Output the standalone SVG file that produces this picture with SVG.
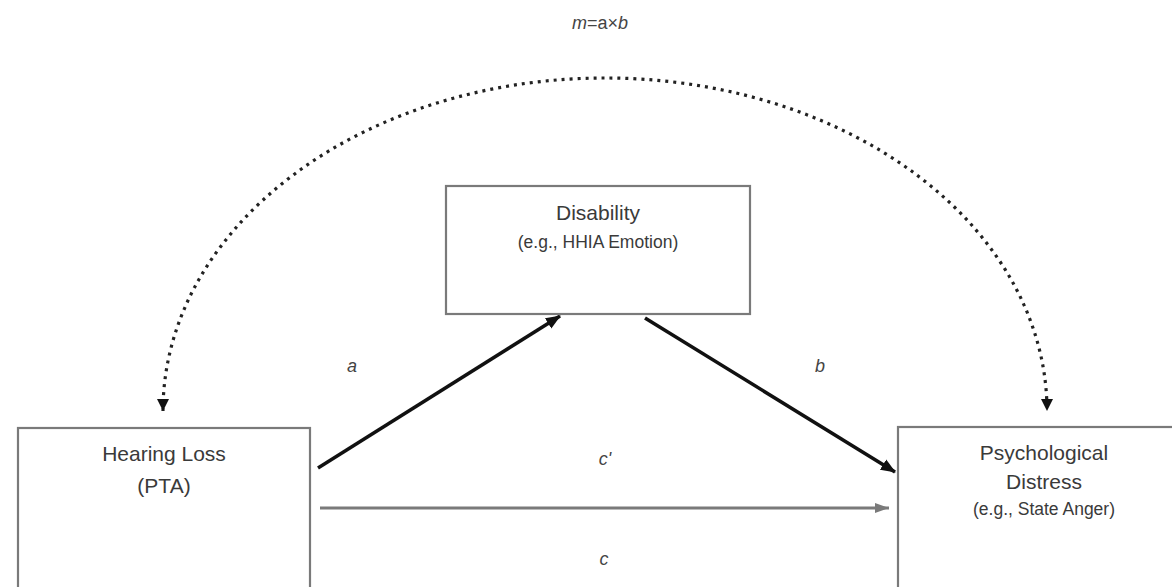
<svg xmlns="http://www.w3.org/2000/svg" width="1172" height="587" viewBox="0 0 1172 587">
<style>
.box{fill:#fff;stroke:#7a7a7a;stroke-width:2.2}
.t{font-family:"Liberation Sans",Arial,sans-serif;fill:#3a3a3a;text-anchor:middle}
.big{font-size:21px}
.sm{font-size:17.5px}
.lab{font-family:"Liberation Sans",Arial,sans-serif;font-style:italic;font-size:18px;fill:#444;text-anchor:middle}
.solid{fill:none;stroke:#111;stroke-width:3.5}
.grey{fill:none;stroke:#7a7a7a;stroke-width:3}
.dot{fill:none;stroke:#222;stroke-width:3.2;stroke-dasharray:3 5}
</style>
<defs>
<marker id="ah" markerUnits="userSpaceOnUse" markerWidth="16" markerHeight="14" refX="14" refY="7" orient="auto"><path d="M0,1 L15,7 L0,13 Z" fill="#111"/></marker>
<marker id="ahg" markerUnits="userSpaceOnUse" markerWidth="16" markerHeight="14" refX="14" refY="7" orient="auto"><path d="M0,2 L14,7 L0,12 Z" fill="#7a7a7a"/></marker>
<marker id="ahd" markerUnits="userSpaceOnUse" markerWidth="14" markerHeight="14" refX="12" refY="7" orient="auto"><path d="M0,1 L12,7 L0,13 Z" fill="#111"/></marker>
<marker id="ahds" markerUnits="userSpaceOnUse" markerWidth="14" markerHeight="14" refX="0" refY="7" orient="auto"><path d="M12,1 L0,7 L12,13 Z" fill="#111"/></marker>
</defs>
<rect width="1172" height="587" fill="#fff"/>
<text class="lab" x="600" y="29"><tspan>m</tspan><tspan font-style="normal">=a×</tspan><tspan>b</tspan></text>
<g id="connectors">
<path class="dot" d="M163,411 A442,333 0 0 1 1047,411" marker-start="url(#ahds)" marker-end="url(#ahd)"/>
<line class="solid" x1="318" y1="468" x2="560" y2="316" marker-end="url(#ah)"/>
<line class="solid" x1="645" y1="318" x2="895" y2="472" marker-end="url(#ah)"/>
<line class="grey" x1="320" y1="508" x2="889" y2="508" marker-end="url(#ahg)"/>
<text class="lab" x="352" y="372">a</text>
<text class="lab" x="820" y="372">b</text>
<text class="lab" x="605" y="465">c'</text>
<text class="lab" x="604" y="565">c</text>
</g>
<g id="disability">
<rect class="box" x="446" y="186" width="304" height="128"/>
<text class="t big" x="598" y="220">Disability</text>
<text class="t sm" x="598" y="248">(e.g., HHIA Emotion)</text>
</g>
<g id="hearing-loss">
<rect class="box" x="18" y="428" width="292" height="170"/>
<text class="t big" x="164" y="461">Hearing Loss</text>
<text class="t big" x="164" y="493">(PTA)</text>
</g>
<g id="distress">
<rect class="box" x="898" y="427" width="290" height="170"/>
<text class="t big" x="1044" y="460">Psychological</text>
<text class="t big" x="1044" y="489">Distress</text>
<text class="t sm" x="1044" y="515">(e.g., State Anger)</text>
</g>
</svg>
